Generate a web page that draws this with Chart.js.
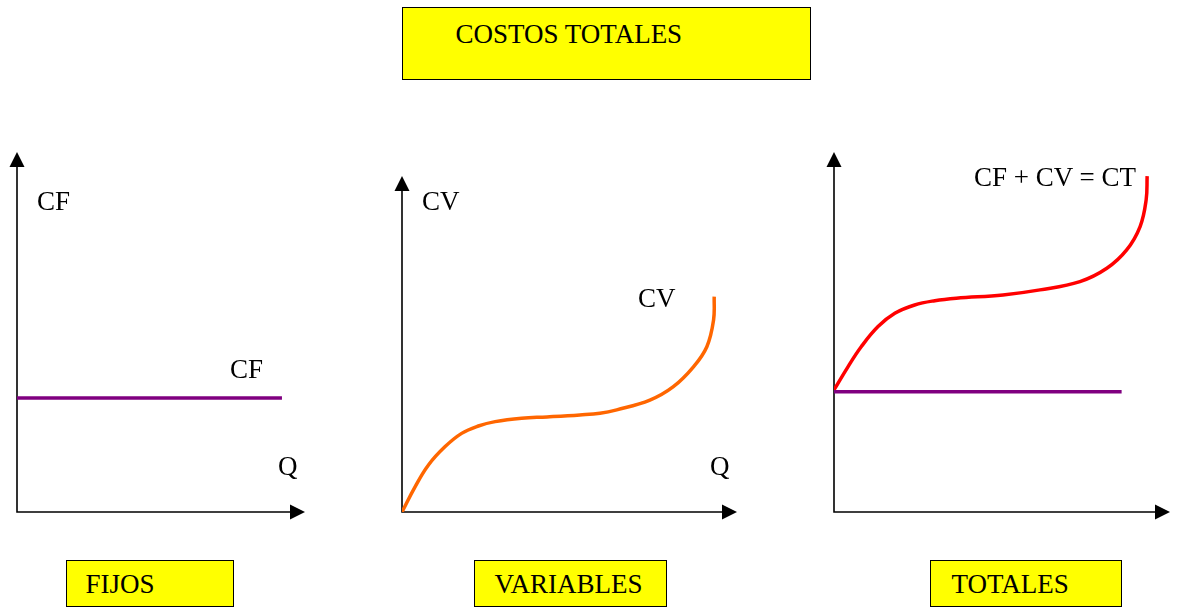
<!DOCTYPE html>
<html lang="es">
<head>
  <meta charset="UTF-8">
  <title>Costos totales</title>
  <script src="https://cdn.jsdelivr.net/npm/chart.js"></script>
  <style>
    body { margin: 0; background: #fff; font-family: "Liberation Serif", "Times New Roman", serif; }
    #page { position: relative; width: 1180px; height: 608px; overflow: hidden; }
    canvas { position: absolute; }
    .box { position: absolute; box-sizing: border-box; border: 1.5px solid #000; background: #ffff00;
           font-size: 27px; line-height: 26px; color: #000; white-space: nowrap; }
    .lbl { position: absolute; font-size: 27px; line-height: 26px; color: #000; white-space: nowrap; }
  </style>
</head>
<body>
<div id="page">
  <div class="box" style="left:402px;top:7px;width:409px;height:73px;padding:12.5px 0 0 52.5px;">COSTOS TOTALES</div>

  <canvas id="fijos" width="308" height="380" style="left:7px;top:142px;"></canvas>
  <canvas id="variables" width="355" height="356" style="left:392px;top:166px;"></canvas>
  <canvas id="totales" width="356" height="380" style="left:824px;top:142px;"></canvas>

  <div class="lbl" style="left:37px;top:188px;">CF</div>
  <div class="lbl" style="left:230px;top:356px;">CF</div>
  <div class="lbl" style="left:278px;top:453px;">Q</div>

  <div class="lbl" style="left:422px;top:188px;">CV</div>
  <div class="lbl" style="left:638px;top:285px;">CV</div>
  <div class="lbl" style="left:710px;top:453px;">Q</div>

  <div class="lbl" style="left:974px;top:164px;">CF + CV = CT</div>

  <div class="box" style="left:66px;top:560px;width:168px;height:47px;padding:9.5px 0 0 18.5px;">FIJOS</div>
  <div class="box" style="left:474px;top:560px;width:193px;height:47px;padding:9.5px 0 0 19.5px;">VARIABLES</div>
  <div class="box" style="left:930px;top:560px;width:192px;height:47px;padding:9.5px 0 0 20.5px;">TOTALES</div>
</div>

<script>
  // costos fijos
  const qFijos = [0, 92];
  const cfFijos = [31.7, 31.7];

  // costos variables
  const qVar = [0, 3.9, 7.9, 12.8, 17.8, 22.8, 27.8, 35.7, 43.3, 53.1, 59.1, 64.1, 74.0, 81.0, 87.0, 91.0, 93.0, 93.2];
  const cvVar = [0, 7.5, 14.0, 19.4, 23.4, 25.6, 26.9, 27.9, 28.3, 28.9, 29.4, 30.4, 33.3, 37.3, 43.2, 49.2, 57.1, 64.1];

  // costos totales
  const qTotCF = [0, 85.6];
  const cfTot = [33.4, 33.4];
  const qTot = [0, 4.2, 8.1, 13.1, 18.1, 24.0, 30.0, 36.4, 50.3, 61.3, 73.2, 81.2, 87.1, 91.1, 92.9, 93.2];
  const ctTot = [33.9, 40.4, 45.9, 51.5, 55.2, 57.5, 58.7, 59.4, 60.3, 61.7, 64.0, 67.7, 72.8, 79.3, 86.7, 93.3];

  const toPoints = (xs, ys) => xs.map((x, i) => ({ x: x, y: ys[i] }));

  // ejes con flechas
  const arrowAxes = {
    id: 'arrowAxes',
    beforeDatasetsDraw(chart) {
      const ctx = chart.ctx;
      const x0 = chart.scales.x.getPixelForValue(0);
      const y0 = chart.scales.y.getPixelForValue(0);
      const xTip = chart.chartArea.right;
      const yTip = chart.chartArea.top;
      const len = 15, half = 7.5;
      ctx.save();
      ctx.strokeStyle = '#000';
      ctx.fillStyle = '#000';
      ctx.lineWidth = 1.6;
      ctx.beginPath();
      ctx.moveTo(x0, yTip + len);
      ctx.lineTo(x0, y0);
      ctx.lineTo(xTip - len, y0);
      ctx.stroke();
      ctx.beginPath();
      ctx.moveTo(x0, yTip);
      ctx.lineTo(x0 - half, yTip + len);
      ctx.lineTo(x0 + half, yTip + len);
      ctx.closePath();
      ctx.fill();
      ctx.beginPath();
      ctx.moveTo(xTip, y0);
      ctx.lineTo(xTip - len, y0 - half);
      ctx.lineTo(xTip - len, y0 + half);
      ctx.closePath();
      ctx.fill();
      ctx.restore();
    }
  };

  function makeChart(id, datasets) {
    return new Chart(document.getElementById(id), {
      type: 'line',
      data: { datasets: datasets },
      options: {
        responsive: false,
        animation: false,
        layout: { padding: 10 },
        plugins: { legend: { display: false }, tooltip: { enabled: false } },
        elements: { point: { radius: 0 } },
        scales: {
          x: { type: 'linear', min: 0, max: 100, display: false },
          y: { min: 0, max: 100, display: false }
        }
      },
      plugins: [arrowAxes]
    });
  }

  makeChart('fijos', [
    { data: toPoints(qFijos, cfFijos), borderColor: '#800080', borderWidth: 3.5, tension: 0 }
  ]);

  makeChart('variables', [
    { data: toPoints(qVar, cvVar), borderColor: '#ff6600', borderWidth: 3.5, tension: 0.4, borderCapStyle: 'butt' }
  ]);

  makeChart('totales', [
    { data: toPoints(qTotCF, cfTot), borderColor: '#800080', borderWidth: 3.5, tension: 0 },
    { data: toPoints(qTot, ctTot), borderColor: '#ff0000', borderWidth: 3.5, tension: 0.4, borderCapStyle: 'butt' }
  ]);
</script>
</body>
</html>
